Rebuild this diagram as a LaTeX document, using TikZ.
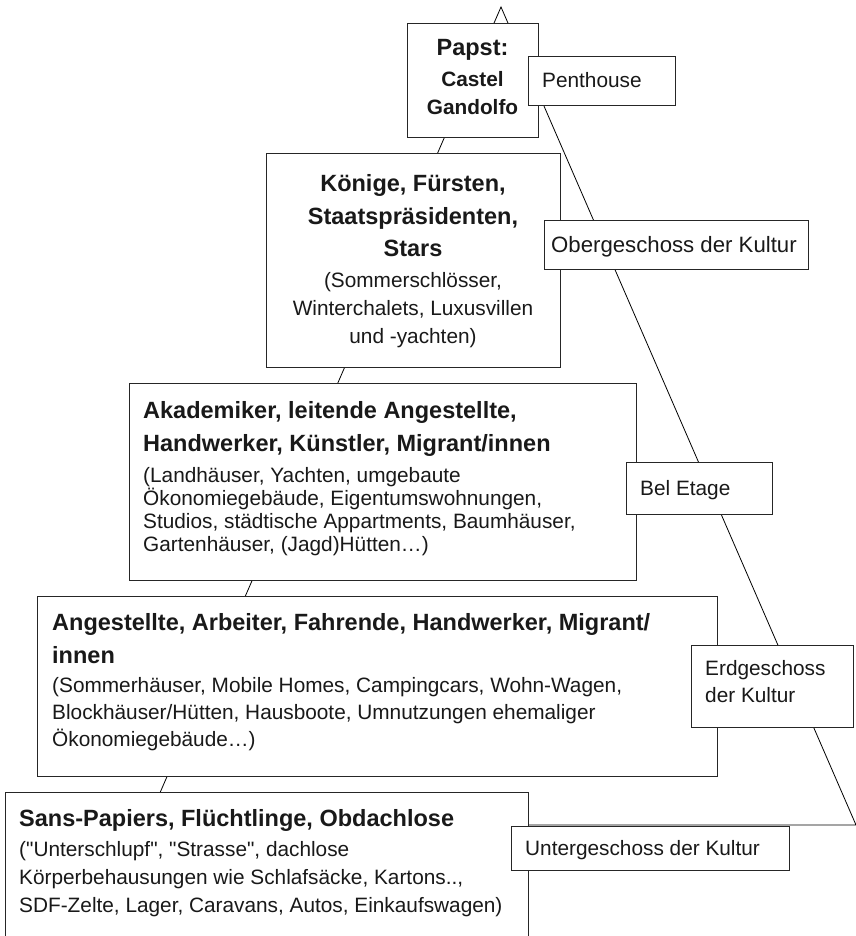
\documentclass[tikz,border=0pt]{standalone}
\usepackage{fontspec}
\setmainfont{Liberation Sans}[Ligatures=TeXOff]
\newcommand{\floorstrut}{\rule{0pt}{22pt}}
\newcommand{\floorhead}[1]{{\fontsize{23.5}{23}\selectfont\bfseries #1}}
\begin{document}
\begin{tikzpicture}[x=1pt,y=-1pt,
    floor/.style={draw=black!85,fill=white,line width=1.2pt,inner sep=0pt,anchor=north west},
    txt/.style={inner sep=0pt,anchor=north west,align=left,text=black!90,
      font={\fontsize{20.8}{23}\selectfont\lineskiplimit=-100pt}}]
    \useasboundingbox (0,0) rectangle (855,936);
    % the pyramid behind the boxes
    \coordinate (apex) at (501,7);
    \coordinate (baseL) at (146,825);
    \coordinate (baseR) at (856,825);
    \draw[line width=0.8pt] (baseL) -- (apex) -- (baseR) -- cycle;
    % top
    \node[floor,minimum width=131pt,minimum height=114pt] (papst) at (407,23) {};
    \node[txt,anchor=north,align=center] (papstT) at (472.5,33)
        {\floorstrut\floorhead{Papst:}\\[8pt]\textbf{Castel}\\[5pt]\textbf{Gandolfo}};
    \node[floor,minimum width=147pt,minimum height=49pt] (pent) at (528,56) {};
    \node[txt] (pentT) at (542,65) {\floorstrut Penthouse};
    % second floor
    \node[floor,minimum width=294pt,minimum height=214pt] (koenige) at (266,153) {};
    \node[txt,anchor=north,align=center] (koenigeT) at (413,169)
        {\floorstrut\floorhead{Könige, Fürsten,}\\[10pt]\floorhead{Staatspräsidenten,}\\[9pt]
         \floorhead{Stars}\\[8pt](Sommerschlösser,\\[5pt]Winterchalets, Luxusvillen\\[5pt]und -yachten)};
    \node[floor,minimum width=264pt,minimum height=49pt] (ober) at (544,220) {};
    \node[txt,font={\fontsize{22.2}{23}\selectfont}] (oberT) at (551,230) {\floorstrut Obergeschoss der Kultur};
    % third floor
    \node[floor,minimum width=507pt,minimum height=197pt] (akad) at (129,383) {};
    \node[txt] (akadT) at (143,396)
        {\floorstrut\floorhead{Akademiker, leitende Angestellte,}\\[10pt]
         \floorhead{Handwerker, Künstler, Migrant/innen}\\[8pt]
         (Landhäuser, Yachten, umgebaute\\
         Ökonomiegebäude, Eigentumswohnungen,\\
         Studios, städtische Appartments, Baumhäuser,\\
         Gartenhäuser, (Jagd)Hütten…)};
    \node[floor,minimum width=146pt,minimum height=52pt] (bel) at (626,462) {};
    \node[txt] (belT) at (640,473) {\floorstrut Bel Etage};
    % fourth floor
    \node[floor,minimum width=680pt,minimum height=180pt] (angest) at (37,596) {};
    \node[txt] (angestT) at (52,608)
        {\floorstrut\floorhead{Angestellte, Arbeiter, Fahrende, Handwerker, Migrant/}\\[10pt]
         \floorhead{innen}\\[6pt]
         (Sommerhäuser, Mobile Homes, Campingcars, Wohn-Wagen,\\[4pt]
         Blockhäuser/Hütten, Hausboote, Umnutzungen ehemaliger\\[4pt]
         Ökonomiegebäude…)};
    \node[floor,minimum width=162pt,minimum height=82pt] (erd) at (691,645) {};
    \node[txt] (erdT) at (705,653) {\floorstrut Erdgeschoss\\[4pt]der Kultur};
    % ground
    \node[floor,minimum width=523pt,minimum height=160pt] (sans) at (5,792) {};
    \node[txt] (sansT) at (19,804)
        {\floorstrut\floorhead{Sans-Papiers, Flüchtlinge, Obdachlose}\\[7pt]
         ("Unterschlupf", "Strasse", dachlose\\[5pt]
         Körperbehausungen wie Schlafsäcke, Kartons..,\\[5pt]
         SDF-Zelte, Lager, Caravans, Autos, Einkaufswagen)};
    \node[floor,minimum width=278pt,minimum height=44pt] (unter) at (511,826) {};
    \node[txt] (unterT) at (525,833) {\floorstrut Untergeschoss der Kultur};
\end{tikzpicture}
\end{document}
